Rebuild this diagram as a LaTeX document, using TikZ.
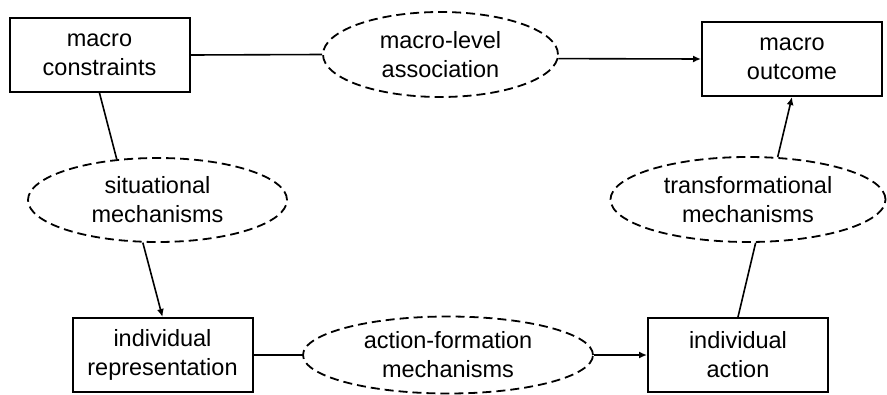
\documentclass[tikz,border=0pt]{standalone}
\usepackage{fontspec}
\setmainfont{Liberation Sans}
\usetikzlibrary{shapes.geometric,arrows.meta}
\begin{document}
\begin{tikzpicture}[x=1pt,y=-1pt,
  box/.style={draw,line width=2pt,minimum width=180pt,minimum height=74pt,inner sep=0pt,align=center,font=\fontsize{23.5}{29}\selectfont},
  mech/.style={draw,ellipse,dash pattern=on 9pt off 5pt,line width=1.8pt,inner sep=0pt},
  lbl/.style={align=center,inner sep=0pt,font=\fontsize{23.5}{29}\selectfont},
  conn/.style={line width=1.6pt},
  arr/.style={conn,-{Latex[length=8pt,width=7pt]}}]
\useasboundingbox (0,0) rectangle (887,394);
\node[box] (mc) at (99.5,55) {macro\\constraints};
\node[box] (mo) at (792,59) {macro\\outcome};
\node[box] (ir) at (162.5,355) {individual\\representation};
\node[box] (ia) at (738,355) {individual\\action};
\node[mech,minimum width=235pt,minimum height=85pt] (ma) at (440.5,54.5) {};
\node[lbl] (maT) at (ma.center) {macro-level\\association};
\node[mech,minimum width=259pt,minimum height=84pt] (sm) at (157.5,200) {};
\node[lbl] (smT) at (sm.center) {situational\\mechanisms};
\node[mech,minimum width=275pt,minimum height=85pt] (tm) at (748,199.5) {};
\node[lbl] (tmT) at (tm.center) {transformational\\mechanisms};
\node[mech,minimum width=290pt,minimum height=77pt] (af) at (448,355) {};
\node[lbl] (afT) at (af.center) {action-formation\\mechanisms};
\draw[conn] (mc.east) -- (ma.west);
\draw[arr] (ma.-2) -- (mo.west);
\draw[conn] (mc.south) -- (sm.135);
\draw[arr] (sm.251) -- (ir.north);
\draw[conn] (ir.east) -- (af.west);
\draw[arr] (af.east) -- (ia.west);
\draw[conn] (ia.north) -- (tm.280);
\draw[arr] (tm.55) -- (mo.south);
\end{tikzpicture}
\end{document}
